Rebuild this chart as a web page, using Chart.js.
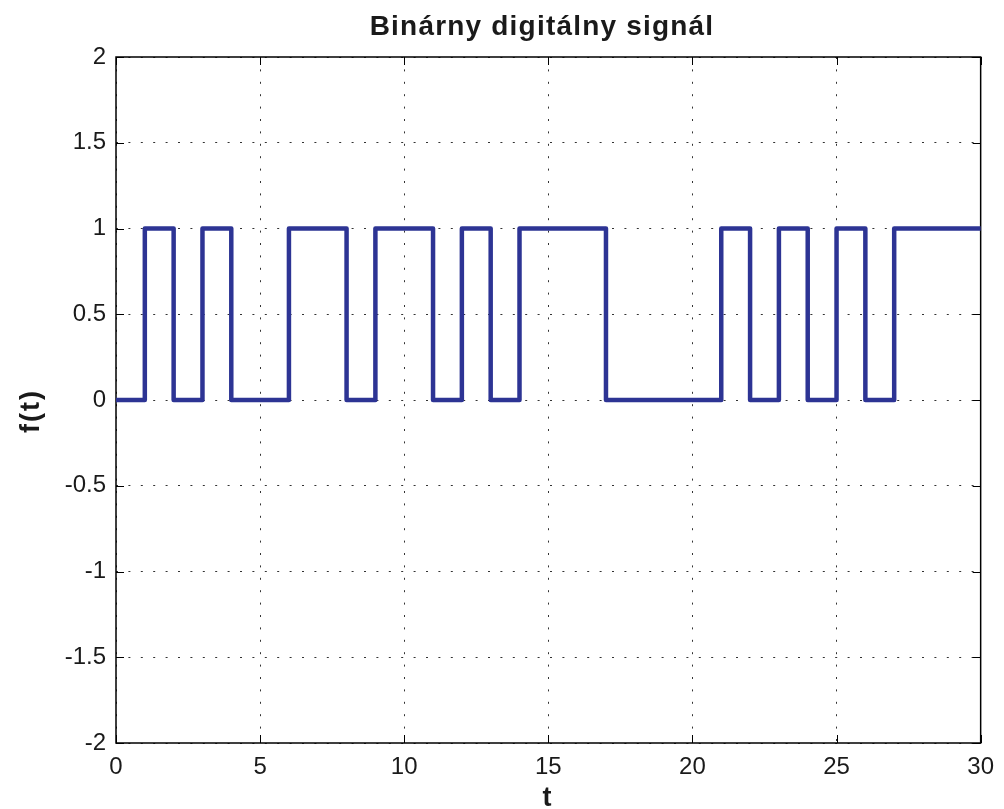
<!DOCTYPE html>
<html>
<head>
<meta charset="utf-8">
<script src="https://cdn.jsdelivr.net/npm/chart.js@4/dist/chart.umd.min.js"></script>
<style>
  html, body { margin: 0; padding: 0; background: #fff; }
  #wrap { width: 1004px; height: 809px; }
</style>
</head>
<body>
<div id="wrap"><canvas id="signalChart" width="1004" height="809"></canvas></div>
<script>
// sample times and bit values (value holds from t to t+1)
const times = [0, 1, 2, 3, 4, 5, 6, 7, 8, 9, 10, 11, 12, 13, 14, 15, 16, 17, 18, 19, 20, 21, 22, 23, 24, 25, 26, 27, 28, 29, 30];
const bits  = [0, 1, 0, 1, 0, 0, 1, 1, 0, 1, 1, 0, 1, 0, 1, 1, 1, 0, 0, 0, 0, 1, 0, 1, 0, 1, 0, 1, 1, 1, 1];

const xTicks = [0, 5, 10, 15, 20, 25, 30];
const yTicks = [-2, -1.5, -1, -0.5, 0, 0.5, 1, 1.5, 2];

const titleText = "Binárny digitálny signál";
const xLabel = "t";
const yLabel = "f(t)";

const FONT = "'Liberation Sans', Arial, Helvetica, sans-serif";
const TICK_LEN = 8;

// MATLAB-like box with inward ticks
const boxPlugin = {
  id: "box",
  beforeDatasetsDraw(chart) {
    const { ctx, chartArea: a, scales } = chart;
    ctx.save();
    ctx.strokeStyle = "#000";
    ctx.lineWidth = 1.5;
    ctx.setLineDash([]);
    ctx.strokeRect(a.left, a.top, a.right - a.left, a.bottom - a.top);
    ctx.lineWidth = 1;
    ctx.beginPath();
    xTicks.forEach((v) => {
      const x = Math.round(scales.x.getPixelForValue(v)) + 0.5;
      ctx.moveTo(x, a.bottom);
      ctx.lineTo(x, a.bottom - TICK_LEN);
      ctx.moveTo(x, a.top);
      ctx.lineTo(x, a.top + TICK_LEN);
    });
    yTicks.forEach((v) => {
      const y = Math.round(scales.y.getPixelForValue(v)) + 0.5;
      ctx.moveTo(a.left, y);
      ctx.lineTo(a.left + TICK_LEN, y);
      ctx.moveTo(a.right, y);
      ctx.lineTo(a.right - TICK_LEN, y);
    });
    ctx.stroke();
    ctx.restore();
  },
};

// title and axis labels (wider tracking, like the original)
const labelsPlugin = {
  id: "labels",
  afterDraw(chart) {
    const { ctx } = chart;
    ctx.save();
    ctx.fillStyle = "#1a1a1a";
    ctx.textAlign = "center";
    ctx.textBaseline = "alphabetic";

    ctx.font = "bold 28px " + FONT;
    ctx.letterSpacing = "1.2px";
    ctx.fillText(titleText, 542, 35);

    ctx.font = "bold 27px " + FONT;
    ctx.letterSpacing = "2px";
    ctx.fillText(xLabel, 548, 806);

    ctx.translate(39, 411);
    ctx.rotate(-Math.PI / 2);
    ctx.fillText(yLabel, 0, 0);
    ctx.restore();
  },
};

const ctx = document.getElementById("signalChart");

new Chart(ctx, {
  type: "line",
  data: {
    datasets: [
      {
        label: yLabel,
        data: times.map((t, i) => ({ x: t, y: bits[i] })),
        stepped: "before",
        borderColor: "#2d3494",
        borderWidth: 4.5,
        borderJoinStyle: "round",
        borderCapStyle: "round",
        pointRadius: 0,
        fill: false,
      },
    ],
  },
  options: {
    responsive: false,
    animation: false,
    layout: { padding: { left: 0, right: 21, top: 57, bottom: 0 } },
    plugins: {
      legend: { display: false },
      tooltip: { enabled: false },
      title: { display: false },
    },
    scales: {
      x: {
        type: "linear",
        min: 0,
        max: 30,
        afterBuildTicks: (s) => { s.ticks = xTicks.map((v) => ({ value: v })); },
        afterFit: (s) => { s.height = 66; },
        grid: {
          color: "#333",
          lineWidth: 1,
          drawTicks: false,
        },
        border: { display: false, dash: [2, 10.4] },
        ticks: {
          color: "#1a1a1a",
          padding: 10,
          maxRotation: 0,
          font: { family: FONT, size: 24 },
          callback: (v) => String(v),
        },
      },
      y: {
        type: "linear",
        min: -2,
        max: 2,
        afterBuildTicks: (s) => { s.ticks = yTicks.map((v) => ({ value: v })); },
        afterFit: (s) => { s.width = 116; },
        grid: {
          color: "#333",
          lineWidth: 1,
          drawTicks: false,
        },
        border: { display: false, dash: [2, 10.4] },
        ticks: {
          color: "#1a1a1a",
          padding: 10,
          font: { family: FONT, size: 24 },
          callback: (v) => String(v),
        },
      },
    },
  },
  plugins: [boxPlugin, labelsPlugin],
});
</script>
</body>
</html>
